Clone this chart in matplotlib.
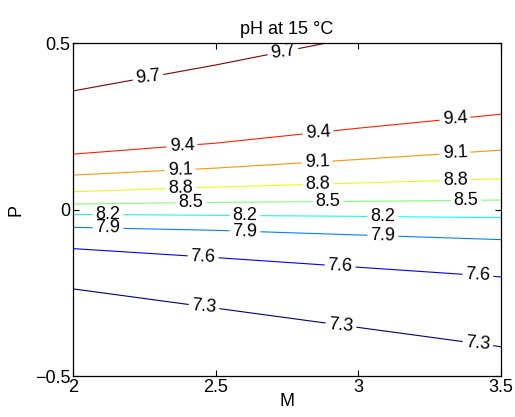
import matplotlib
matplotlib.use('Agg')
import matplotlib.pyplot as plt
import numpy as np

plt.rcParams['font.family'] = ['Liberation Sans', 'DejaVu Sans']

# pH levels and where each contour line crosses the four M columns
m_values = [2.0, 2.5, 3.0, 3.5]
ph_levels = [7.3, 7.6, 7.9, 8.2, 8.5, 8.8, 9.1, 9.4, 9.7]
p_at_level = [
    [-0.238, -0.296, -0.354, -0.412],   # 7.3
    [-0.117, -0.144, -0.173, -0.202],   # 7.6
    [-0.053, -0.062, -0.076, -0.090],   # 7.9
    [-0.014, -0.017, -0.020, -0.024],   # 8.2
    [0.017, 0.022, 0.025, 0.029],       # 8.5
    [0.054, 0.068, 0.080, 0.093],       # 8.8
    [0.104, 0.125, 0.151, 0.179],       # 9.1
    [0.167, 0.200, 0.245, 0.287],       # 9.4
    [0.357, 0.435, 0.520, 0.603],       # 9.7
]
# padding rows just outside the plotted window so every level is interior
pad_low = (7.0, -0.7)
pad_high = (10.0, 0.9)

# label anchor points (M, P)
label_spots = [
    (2.263, 0.396), (2.736, 0.475),
    (2.382, 0.195), (2.859, 0.231), (3.339, 0.270),
    (2.375, 0.122), (2.855, 0.144), (3.339, 0.168),
    (2.378, 0.062), (2.859, 0.075), (3.342, 0.089),
    (2.414, 0.020), (2.894, 0.023), (3.377, 0.027),
    (2.123, -0.019), (2.603, -0.021), (3.086, -0.025),
    (2.123, -0.058), (2.603, -0.069), (3.086, -0.081),
    (2.456, -0.146), (2.936, -0.173), (3.419, -0.201),
    (2.459, -0.295), (2.939, -0.352), (3.419, -0.406),
]

z_rows = [pad_low[0]] + ph_levels + [pad_high[0]]
y_rows = [[pad_low[1]] * len(m_values)] + p_at_level + [[pad_high[1]] * len(m_values)]
Y = np.array(y_rows)
X = np.tile(m_values, (len(z_rows), 1))
Z = np.repeat(np.array(z_rows)[:, None], len(m_values), axis=1)

fig = plt.figure(figsize=(5.15, 4.17), dpi=100)
ax = fig.add_axes([0.1417, 0.0983, 0.8311, 0.7977])

cs = ax.contour(X, Y, Z, levels=ph_levels, cmap='jet', linewidths=0.8)
ax.clabel(cs, fmt='%.1f', fontsize=13, colors='black', inline=True,
          inline_spacing=3, manual=label_spots)

ax.set_xlim(2, 3.5)
ax.set_ylim(-0.5, 0.5)
ax.set_xticks([2, 2.5, 3, 3.5])
ax.set_xticklabels(['2', '2.5', '3', '3.5'])
ax.set_yticks([-0.5, 0, 0.5])
ax.set_yticklabels(['\u22120.5', '0', '0.5'])
ax.tick_params(direction='in', top=True, right=True, length=4, width=0.8,
               labelsize=13, pad=2)
for s in ax.spines.values():
    s.set_linewidth(0.9)

ax.set_title('pH at 15 °C', fontsize=13, pad=7)
ax.set_xlabel('M', fontsize=13, labelpad=-2)
ax.set_ylabel('P', fontsize=13, labelpad=7)

fig.savefig('out.png', dpi=100)
